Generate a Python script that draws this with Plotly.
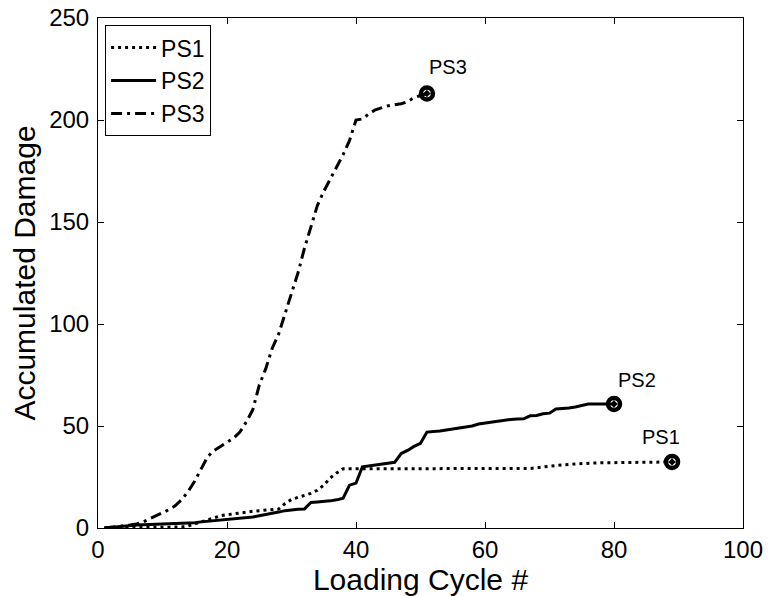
import plotly.graph_objects as go

# ---- data ----
ps1_cycles = list(range(1, 90))
ps1_damage = [0, 0.1, 0.2, 0.3, 0.3, 0.3, 0.3, 0.3, 0.3, 0.3,
              0.3, 0.4, 0.5, 1.0, 2.0, 3.0, 4.0, 5.0, 6.0, 6.5,
              7.0, 7.5, 8.0, 8.2, 8.5, 8.8, 9.0, 9.3, 12.0, 14.0,
              15.0, 16.0, 17.0, 18.5, 21.0, 24.5, 27.0, 29.0, 29.0, 29.0,
              29.0, 29.0, 29.0, 29.0, 29.0, 29.0, 29.0, 29.0, 29.0, 29.0,
              29.0, 29.0, 29.0, 29.0, 29.0, 29.0, 29.0, 29.0, 29.0, 29.0,
              29.0, 29.0, 29.0, 29.0, 29.0, 29.1, 29.2, 29.5, 30.0, 30.3,
              30.6, 31.0, 31.2, 31.4, 31.6, 31.8, 32.0, 32.0, 32.0, 32.0,
              32.0, 32.1, 32.1, 32.2, 32.2, 32.3, 32.3, 32.4, 32.4]

ps2_cycles = list(range(1, 81))
ps2_damage = [0, 0.3, 0.6, 1.0, 1.5, 1.5, 1.6, 1.7, 1.8, 2.0,
              2.0, 2.1, 2.2, 2.4, 2.6, 3.0, 3.3, 3.5, 3.8, 4.0,
              4.3, 4.6, 5.0, 5.4, 6.0, 6.5, 7.0, 7.8, 8.5, 9.0,
              9.2, 9.3, 12.5, 12.8, 13.0, 13.3, 13.8, 14.6, 21.0, 22.0,
              30.0, 30.5, 31.0, 31.5, 32.0, 32.2, 36.5, 38.0, 40.0, 41.5,
              47.0, 47.2, 47.5, 48.0, 48.5, 49.0, 49.3, 50.0, 51.0, 51.5,
              52.0, 52.5, 53.0, 53.2, 53.4, 53.5, 55.0, 55.2, 56.0, 56.3,
              58.3, 58.5, 58.8, 59.3, 60.0, 60.8, 60.8, 60.8, 60.8, 60.8]

ps3_cycles = list(range(1, 52))
ps3_damage = [0, 0.3, 0.6, 1.0, 1.5, 2.0, 3.0, 4.5, 6.0, 7.5,
              9.0, 11.0, 14.0, 18.0, 23.0, 29.0, 35.0, 38.0, 40.0, 42.0,
              44.0, 47.0, 52.0, 58.0, 70.0, 78.0, 88.0, 95.0, 105.0, 115.0,
              125.0, 137.0, 148.0, 158.0, 165.0, 171.0, 177.0, 183.0, 190.0, 200.0,
              200.5, 203.0, 205.0, 206.0, 207.0, 207.5, 208.0, 209.0, 211.0, 212.0,
              213.0]

series_names = ["PS1", "PS2", "PS3"]
label_x = [84.0, 80.3, 51.0]
label_y = [44.5, 72.5, 226.0]

x_ticks = [0, 20, 40, 60, 80, 100]
y_ticks = [0, 50, 100, 150, 200, 250]

FONT = "Liberation Sans, Arial, sans-serif"

fig = go.Figure()
series = [
    (ps1_cycles, ps1_damage, "3px,4px"),
    (ps2_cycles, ps2_damage, "solid"),
    (ps3_cycles, ps3_damage, "11px,5px,3px,5px"),
]
for name, (xs, ys, dash) in zip(series_names, series):
    fig.add_trace(go.Scatter(
        x=xs, y=ys, mode="lines", name=name,
        line=dict(color="black", width=3, dash=dash),
    ))
for name, (xs, ys, dash) in zip(series_names, series):
    fig.add_trace(go.Scatter(
        x=[xs[-1]], y=[ys[-1]], mode="markers", showlegend=False,
        marker=dict(symbol="circle-open-dot", size=12, color="black",
                    line=dict(color="black", width=4.5)),
    ))

for name, lx, ly in zip(series_names, label_x, label_y):
    fig.add_annotation(x=lx, y=ly, text=name, showarrow=False,
                       xanchor="left", yanchor="middle",
                       font=dict(family=FONT, size=20, color="black"))

axis_common = dict(
    showgrid=False, zeroline=False, showline=True, linecolor="black",
    linewidth=1, mirror="ticks", ticks="inside", ticklen=6,
    tickcolor="black", tickfont=dict(family=FONT, size=24, color="black"),
    automargin=False,
)
fig.update_xaxes(range=[0, 100], tickvals=x_ticks,
                 title=dict(text="Loading Cycle #", standoff=0,
                            font=dict(family=FONT, size=30, color="black")),
                 **axis_common)
fig.update_yaxes(range=[0, 250], tickvals=y_ticks, ticklabelstandoff=3,
                 title=dict(text="Accumulated Damage", standoff=4,
                            font=dict(family=FONT, size=30, color="black")),
                 **axis_common)

fig.update_layout(
    width=770, height=596,
    margin=dict(l=98, r=27, t=18, b=68),
    paper_bgcolor="white", plot_bgcolor="white",
    font=dict(family=FONT, color="black"),
    legend=dict(x=0.011, y=0.986, xanchor="left", yanchor="top",
                bgcolor="white", bordercolor="black", borderwidth=1,
                font=dict(family=FONT, size=23, color="black"),
                itemwidth=45, tracegroupgap=0),
)

fig.write_html("out.html")
